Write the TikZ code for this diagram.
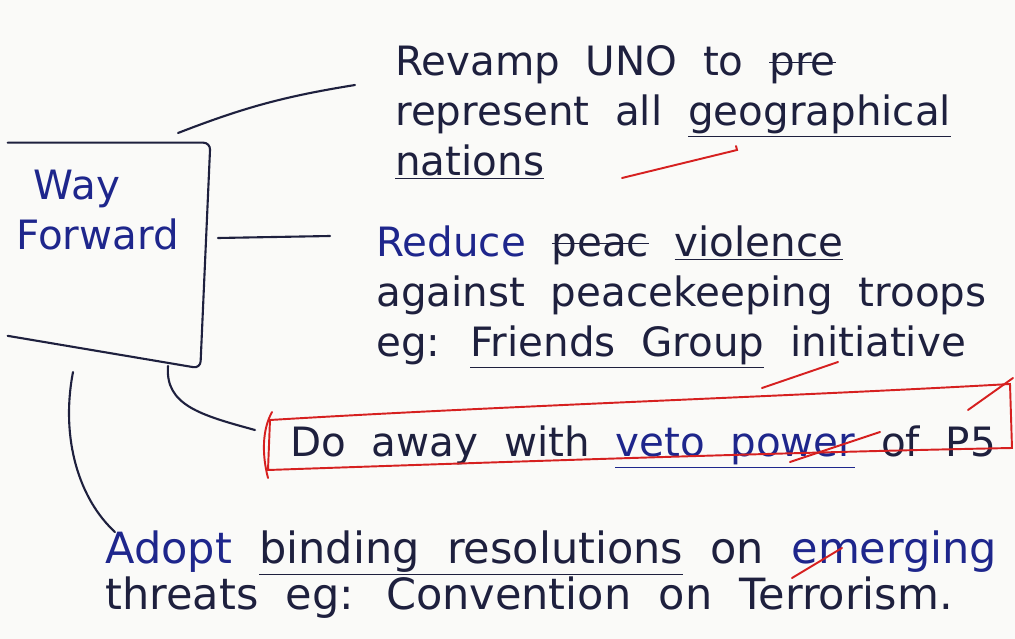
\documentclass[tikz,border=0pt]{standalone}
\usepackage{fontspec}
\setmainfont{DejaVu Sans}[WordSpace=2.0]
\usetikzlibrary{positioning}
\definecolor{ink}{RGB}{30,32,62}
\definecolor{blueink}{RGB}{30,38,140}
\definecolor{markred}{RGB}{214,32,32}
\definecolor{paper}{RGB}{250,250,248}
\newsavebox\strikebox
\newcommand\strikeword[1]{\sbox\strikebox{#1}\rlap{\usebox\strikebox}\rule[0.3em]{\wd\strikebox}{0.7pt}}

\begin{document}
\begin{tikzpicture}[x=0.02cm, y=-0.02cm, line cap=round,
    note/.style={anchor=north west, inner sep=0pt, align=left, text=ink, font=\fontsize{23}{28.5}\selectfont},
    pen/.style={draw=ink, line width=1.2pt},
    redpen/.style={draw=markred, line width=1.1pt}]
    \fill[paper] (0,0) rectangle (1015,639);
    \useasboundingbox (0,0) rectangle (1015,639);

    % central box, open on the left
    \node[minimum width=4.04cm, minimum height=4.5cm] (frame) at (109,255.5) {};
    \node[note, text=blueink] (way) at (16,170) {\hspace*{0.35cm}Way\\Forward};
    \draw[pen, rounded corners=4pt] (frame.north west) -- (frame.north east) -- ([xshift=-0.2cm]frame.south east) -- ([yshift=0.65cm]frame.south west);

    % the four points
    \node[note] (revamp) at (395,45) {Revamp UNO to \strikeword{pre}\\represent all \underline{geographical}\\\underline{nations}};
    \node[note] (reduce) at (376,225) {{\color{blueink}Reduce} \strikeword{peac} \underline{violence}\\against peacekeeping troops\\eg: \underline{Friends Group} initiative};
    \node[note] (veto) at (290,425) {Do away with {\color{blueink}\underline{veto power}} of P5};
    \node[note, font=\fontsize{24.5}{25}\selectfont] (adopt) at (105,530) {{\color{blueink}Adopt} \underline{binding resolutions} on {\color{blueink}emerging}\\threats eg: Convention on Terrorism.};

    % links from the box
    \coordinate (l1a) at (178,133);
    \coordinate (l1b) at (355,85);
    \coordinate (l2a) at (218,238);
    \coordinate (l2b) at (330,236);
    \coordinate (l3a) at (168,366);
    \coordinate (l3b) at (255,430);
    \coordinate (l4a) at (73,372);
    \coordinate (l4b) at (115,532);
    \draw[pen] (l1a) to[bend left=6] (l1b);
    \draw[pen] (l2a) -- (l2b);
    \draw[pen] (l3a) .. controls (165,405) and (200,415) .. (l3b);
    \draw[pen] (l4a) .. controls (60,440) and (80,500) .. (l4b);

    % red marking round the veto point
    \draw[redpen] (270,420) .. controls (500,406) and (800,396) .. (1010,384) -- (1012,448) .. controls (800,452) and (500,462) .. (268,470) -- cycle;
    \draw[redpen] (272,412) .. controls (262,430) and (262,455) .. (268,478);
    \draw[redpen] (622,178) -- (737,150) -- (736,146);
    \draw[redpen] (762,388) -- (838,362);
    \draw[redpen] (968,410) -- (1013,378);
    \draw[redpen] (790,462) -- (880,432);
    \draw[redpen] (792,578) -- (842,548);
\end{tikzpicture}
\end{document}
